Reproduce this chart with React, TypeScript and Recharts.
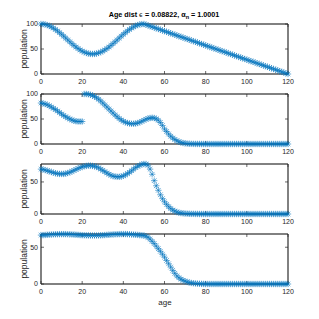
import React from 'react';
import { LineChart, Line, XAxis, YAxis, ReferenceArea } from 'recharts';

const X_TICKS = [0, 20, 40, 60, 80, 100, 120];

const P1 = [
  100, 99.8, 99.1, 97.9, 96.3, 94.3, 91.9, 89.1, 86.1, 82.8,
  79.3, 75.6, 71.9, 68.1, 64.4, 60.7, 57.2, 53.9, 50.9, 48.1,
  45.7, 43.7, 42.1, 40.9, 40.2, 40, 40.2, 40.9, 42.1, 43.7,
  45.7, 48.1, 50.9, 53.9, 57.2, 60.7, 64.4, 68.1, 71.9, 75.6,
  79.3, 82.8, 86.1, 89.1, 91.9, 94.3, 96.3, 97.9, 99.1, 99.8,
  100, 98.6, 97.1, 95.7, 94.3, 92.9, 91.4, 90, 88.6, 87.1,
  85.7, 84.3, 82.9, 81.4, 80, 78.6, 77.1, 75.7, 74.3, 72.9,
  71.4, 70, 68.6, 67.1, 65.7, 64.3, 62.9, 61.4, 60, 58.6,
  57.1, 55.7, 54.3, 52.9, 51.4, 50, 48.6, 47.1, 45.7, 44.3,
  42.9, 41.4, 40, 38.6, 37.1, 35.7, 34.3, 32.9, 31.4, 30,
  28.6, 27.1, 25.7, 24.3, 22.9, 21.4, 20, 18.6, 17.1, 15.7,
  14.3, 12.9, 11.4, 10, 8.6, 7.1, 5.7, 4.3, 2.9, 1.4,
  0,
];

const P2 = [
  82, 81, 80, 78.5, 76.5, 74, 71.5, 69, 66, 63,
  60, 57, 54.5, 52, 50, 48, 46.5, 45.5, 45, 45,
  45, 100, 100, 99.5, 98.5, 97, 95, 92.5, 89.5, 86,
  82, 78, 74, 70, 66, 62, 58, 54.5, 51, 48,
  45.5, 43.5, 42, 41, 40.5, 40.5, 41, 42, 43.5, 45.5,
  47.5, 49.5, 51, 52, 52.5, 52, 50.5, 47.5, 43, 37,
  30, 25, 20, 15.5, 12, 9, 6.5, 4.5, 3, 2,
  1.3, 0.8, 0.5, 0.3, 0.2, 0.1, 0.1, 0.1, 0, 0,
  0, 0, 0, 0, 0, 0, 0, 0, 0, 0,
  0, 0, 0, 0, 0, 0, 0, 0, 0, 0,
  0, 0, 0, 0, 0, 0, 0, 0, 0, 0,
  0, 0, 0, 0, 0, 0, 0, 0, 0, 0,
  0,
];

const P3 = [
  70, 69.5, 68.5, 67.5, 66.5, 65.5, 64.5, 63.5, 63, 62.5,
  62.5, 62.5, 63, 64, 65, 66.5, 68, 69.5, 71, 72.5,
  73.5, 74.5, 75, 75.5, 75.5, 75, 74.5, 73.5, 72, 70,
  68, 66, 64, 62, 60.5, 59, 58.5, 58, 58, 58.5,
  59.5, 61, 63, 65, 67.5, 70, 72.5, 74.5, 76, 77.5,
  78, 78, 76, 70, 62, 52, 44, 37, 30, 24,
  19, 15, 11.5, 8.5, 6, 4.5, 3, 2, 1.4, 1,
  0.7, 0.5, 0.3, 0.2, 0.2, 0.1, 0.1, 0, 0, 0,
  0, 0, 0, 0, 0, 0, 0, 0, 0, 0,
  0, 0, 0, 0, 0, 0, 0, 0, 0, 0,
  0, 0, 0, 0, 0, 0, 0, 0, 0, 0,
  0, 0, 0, 0, 0, 0, 0, 0, 0, 0,
  0,
];

const P4 = [
  66.5, 66.5, 66.7, 66.9, 67.1, 67.3, 67.5, 67.6, 67.7, 67.8,
  67.8, 67.8, 67.8, 67.7, 67.6, 67.4, 67.2, 67, 66.8, 66.6,
  66.4, 66.3, 66.2, 66.1, 66, 66, 66, 66, 66.1, 66.2,
  66.4, 66.6, 66.8, 67, 67.2, 67.4, 67.6, 67.7, 67.8, 67.9,
  67.9, 67.9, 67.8, 67.6, 67.4, 67.2, 67, 66.8, 66.5, 66.2,
  66, 65, 63.5, 61, 58, 55, 51.5, 48, 44.5, 40.5,
  36.5, 32, 27.5, 23, 18.5, 14.5, 11, 8.5, 6.5, 5,
  3.8, 2.8, 2, 1.4, 1, 0.7, 0.5, 0.3, 0.2, 0.1,
  0, 0, 0, 0, 0, 0, 0, 0, 0, 0,
  0, 0, 0, 0, 0, 0, 0, 0, 0, 0,
  0, 0, 0, 0, 0, 0, 0, 0, 0, 0,
  0, 0, 0, 0, 0, 0, 0, 0, 0, 0,
  0,
];

const PANELS = [
  { values: P1, yMax: 100, yTicks: [0, 50, 100] },
  { values: P2, yMax: 100, yTicks: [0, 50, 100] },
  { values: P3, yMax: 78, yTicks: [0, 50] },
  { values: P4, yMax: 68, yTicks: [0, 50] },
];

const BLUE = '#0072BD';
const AXIS = '#262626';
const FONT = "'Liberation Sans Narrow', 'Liberation Sans', Arial, sans-serif";

function Star(props: any) {
  const { cx, cy } = props;
  if (cx == null || cy == null) return <g />;
  const r = 3.2;
  const d = 2.3;
  return (
    <path
      d={`M${cx - r},${cy}H${cx + r}M${cx},${cy - r}V${cy + r}M${cx - d},${cy - d}L${cx + d},${cy + d}M${cx - d},${cy + d}L${cx + d},${cy - d}`}
      stroke={BLUE}
      strokeOpacity={0.85}
      strokeWidth={0.7}
      fill="none"
    />
  );
}

const renderDot = (p: any) => {
  const { key, ...rest } = p;
  return <Star key={`d-${p.index}`} {...rest} />;
};

const EmptyTick = () => <g />;

function Panel({ values, yMax, yTicks, top }: { values: number[]; yMax: number; yTicks: number[]; top: number }) {
  const data = values.map((v, i) => ({ age: i, pop: v }));
  const tickStyle = { fill: AXIS, fontSize: 7, fontFamily: FONT };
  return (
    <div style={{ position: 'absolute', left: 0, top, width: 319, height: 72 }}>
      <LineChart width={319} height={72} data={data} margin={{ top: 3, right: 30, bottom: 0, left: 0 }}>
        <XAxis
          xAxisId="b"
          dataKey="age"
          type="number"
          domain={[0, 120]}
          ticks={X_TICKS}
          height={18}
          tickSize={-3}
          tickMargin={8.5}
          tick={tickStyle}
          stroke={AXIS}
          strokeWidth={0.7}
          interval={0}
        />
        <XAxis
          xAxisId="t"
          orientation="top"
          dataKey="age"
          type="number"
          domain={[0, 120]}
          ticks={X_TICKS}
          height={1}
          tickSize={-3}
          tickMargin={0}
          tick={EmptyTick}
          stroke={AXIS}
          strokeWidth={0.7}
          interval={0}
        />
        <YAxis
          yAxisId="l"
          type="number"
          domain={[0, yMax]}
          ticks={yTicks}
          width={41}
          tickSize={-3}
          tickMargin={6}
          tick={tickStyle}
          stroke={AXIS}
          strokeWidth={0.7}
          interval={0}
        />
        <YAxis
          yAxisId="r"
          orientation="right"
          type="number"
          domain={[0, yMax]}
          ticks={yTicks}
          width={1}
          tickSize={-3}
          tickMargin={0}
          tick={EmptyTick}
          stroke={AXIS}
          strokeWidth={0.7}
          interval={0}
        />
        <ReferenceArea
          xAxisId="b"
          yAxisId="l"
          x1={0}
          x2={120}
          y1={0}
          y2={yMax}
          fill="none"
          fillOpacity={0}
          stroke={AXIS}
          strokeWidth={0.7}
        />
        <Line
          xAxisId="t"
          yAxisId="r"
          dataKey="pop"
          stroke="none"
          dot={false}
          activeDot={false}
          isAnimationActive={false}
        />
        <Line
          xAxisId="b"
          yAxisId="l"
          dataKey="pop"
          stroke="none"
          dot={renderDot}
          activeDot={false}
          isAnimationActive={false}
        />
      </LineChart>
    </div>
  );
}

const PANEL_TOPS = [20, 90, 160, 230];

export default function App() {
  return (
    <div style={{ position: 'absolute', left: 0, top: 0, width: 319, height: 319, background: '#fff' }}>
      {PANELS.map((p, i) => (
        <Panel key={i} values={p.values} yMax={p.yMax} yTicks={p.yTicks} top={PANEL_TOPS[i]} />
      ))}
      <svg width={319} height={319} style={{ position: 'absolute', left: 0, top: 0, pointerEvents: 'none' }}>
        <text x={164} y={17} textAnchor="middle" fontWeight="bold" fontSize={7.2} fill="#000" fontFamily={FONT}>
          Age dist <tspan fontFamily="'DejaVu Sans', sans-serif" fontWeight="normal" fontSize={6.5}>ϵ</tspan> = 0.08822, α
          <tspan fontSize={5.5} dy={2}>n</tspan>
          <tspan dy={-2}> = 1.0001</tspan>
        </text>
        {PANEL_TOPS.map((t, i) => (
          <text
            key={i}
            x={0}
            y={0}
            transform={`translate(27, ${t + 29}) rotate(-90)`}
            textAnchor="middle"
            fontSize={8.5}
            fill={AXIS}
            fontFamily="'Liberation Sans', Arial, sans-serif"
          >
            population
          </text>
        ))}
        <text x={165} y={305} textAnchor="middle" fontSize={8} fill={AXIS} fontFamily={FONT}>
          age
        </text>
      </svg>
    </div>
  );
}
